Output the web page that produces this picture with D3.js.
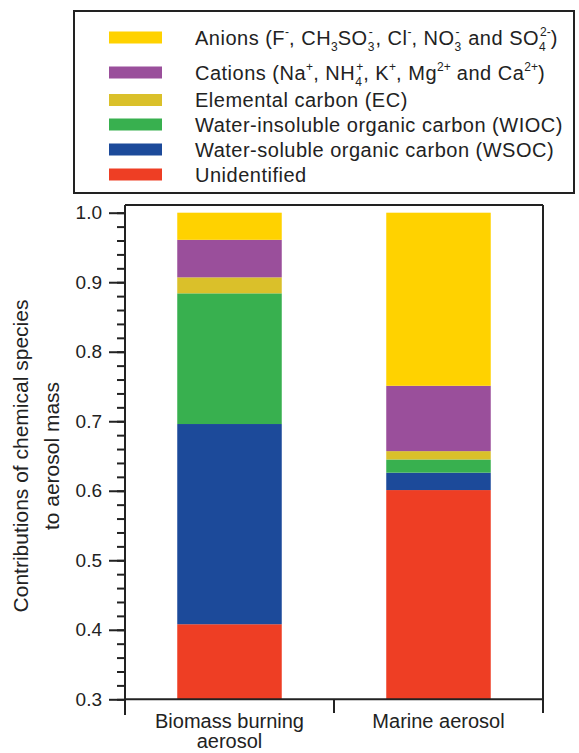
<!DOCTYPE html>
<html>
<head>
<meta charset="utf-8">
<script src="https://cdn.jsdelivr.net/npm/d3@7"></script>
<style>
  body { margin: 0; background: #fff; }
  svg { display: block; font-family: "Liberation Sans", Arial, sans-serif; }
</style>
</head>
<body>
<svg id="chart" width="579" height="753"></svg>
<script>
// data (fraction of aerosol mass)
var categories = ["Biomass burning aerosol", "Marine aerosol"];
var categoryLines = [["Biomass burning", "aerosol"], ["Marine aerosol"]];
var species = ["unid", "wsoc", "wioc", "ec", "cations", "anions"];
var unidentified = [0.408, 0.601];
var wsoc = [0.288, 0.025];
var wioc = [0.188, 0.019];
var ec = [0.023, 0.012];
var cations = [0.054, 0.094];
var anions = [0.039, 0.249];
var colors = ["#ee3e24", "#1c4a9a", "#38b04f", "#dac02a", "#9a4f9b", "#ffd200"];
var majorTicks = [0.3, 0.4, 0.5, 0.6, 0.7, 0.8, 0.9, 1.0];

// legend entries, top to bottom; each is a list of [text, kind] pieces
// kind: n = normal, sub, sup, supk = superscript stacked over the previous subscript
var legendItems = [
  { c: 5, parts: [["Anions (F", "n"], ["-", "sup"], [", CH", "n"], ["3", "sub"], ["SO", "n"], ["3", "sub"], ["-", "supk"],
                  [", Cl", "n"], ["-", "sup"], [", NO", "n"], ["3", "sub"], ["-", "supk"], [" and SO", "n"], ["4", "sub"], ["2-", "supk"], [")", "n"]] },
  { c: 4, parts: [["Cations (Na", "n"], ["+", "sup"], [", NH", "n"], ["4", "sub"], ["+", "supk"], [", K", "n"], ["+", "sup"],
                  [", Mg", "n"], ["2+", "sup"], [" and Ca", "n"], ["2+", "sup"], [")", "n"]] },
  { c: 3, parts: [["Elemental carbon (EC)", "n"]] },
  { c: 2, parts: [["Water-insoluble organic carbon (WIOC)", "n"]] },
  { c: 1, parts: [["Water-soluble organic carbon (WSOC)", "n"]] },
  { c: 0, parts: [["Unidentified", "n"]] }
];
var legendRowY = [37.5, 72.5, 100, 124.5, 149.5, 174.5];

var rows = categories.map(function(cat, i) {
  return { cat: cat, unid: unidentified[i], wsoc: wsoc[i], wioc: wioc[i], ec: ec[i], cations: cations[i], anions: anions[i] };
});

var svg = d3.select("#chart");
var plotLeft = 125, plotRight = 543, plotTop = 205;
var ink = "#222";

var y = d3.scaleLinear().domain([0.3, 1.0]).range([699.3, 212.7]).clamp(true);
var x = d3.scaleBand().domain(categories).range([plotLeft, plotRight]).paddingInner(0.5).paddingOuter(0.25);

var stacked = d3.stack().keys(species)(rows);

// bars
svg.append("g").selectAll("g")
  .data(stacked)
  .enter().append("g")
  .attr("fill", function(d, i) { return colors[i]; })
  .selectAll("rect")
  .data(function(d) { return d; })
  .enter().append("rect")
  .attr("x", function(d) { return x(d.data.cat); })
  .attr("width", x.bandwidth())
  .attr("y", function(d) { return y(d[1]); })
  .attr("height", function(d) { return y(d[0]) - y(d[1]); });

// y axis: minor then major ticks
var minor = d3.range(0.3, 1.001, 0.02);
svg.append("g")
  .attr("transform", "translate(" + plotLeft + ",0)")
  .call(d3.axisLeft(y).tickValues(minor).tickSize(8).tickFormat(""))
  .call(function(g) { g.select(".domain").remove(); g.selectAll("line").attr("stroke", ink).attr("stroke-width", 2); });

svg.append("g")
  .attr("transform", "translate(" + plotLeft + ",0)")
  .call(d3.axisLeft(y).tickValues(majorTicks).tickSize(16).tickPadding(7).tickFormat(d3.format(".1f")))
  .call(function(g) {
    g.select(".domain").remove();
    g.selectAll("line").attr("stroke", ink).attr("stroke-width", 2);
    g.selectAll("text").attr("font-size", 19).attr("fill", ink).attr("font-family", null);
  });

// frame
var frame = svg.append("g").attr("stroke", ink).attr("stroke-width", 2).attr("fill", "none");
frame.append("line").attr("x1", plotLeft).attr("x2", plotLeft).attr("y1", plotTop).attr("y2", 715);
frame.append("line").attr("x1", plotLeft).attr("x2", plotRight).attr("y1", plotTop).attr("y2", plotTop);
frame.append("line").attr("x1", plotRight).attr("x2", plotRight).attr("y1", plotTop).attr("y2", 713);
frame.append("line").attr("x1", plotLeft).attr("x2", plotRight).attr("y1", y(0.3)).attr("y2", y(0.3));
frame.append("line").attr("x1", (plotLeft + plotRight) / 2).attr("x2", (plotLeft + plotRight) / 2).attr("y1", y(0.3)).attr("y2", 713);

// x labels
svg.append("g").selectAll("text")
  .data(categories)
  .enter().append("text")
  .attr("text-anchor", "middle")
  .attr("font-size", 20)
  .attr("fill", ink)
  .each(function(d, i) {
    var t = d3.select(this);
    categoryLines[i].forEach(function(line, j) {
      t.append("tspan").attr("x", x(d) + x.bandwidth() / 2).attr("y", 728 + j * 20).text(line);
    });
  });

// y title
svg.append("text")
  .attr("transform", "translate(0,456) rotate(-90)")
  .attr("text-anchor", "middle")
  .attr("font-size", 21)
  .attr("fill", ink)
  .selectAll("tspan")
  .data(["Contributions of chemical species", "to aerosol mass"])
  .enter().append("tspan")
  .attr("x", 0)
  .attr("y", function(d, i) { return 28 + i * 31; })
  .text(function(d) { return d; });

// legend
svg.append("rect")
  .attr("x", 74).attr("y", 11).attr("width", 500).attr("height", 182)
  .attr("fill", "none").attr("stroke", ink).attr("stroke-width", 2);

var leg = svg.append("g").selectAll("g")
  .data(legendItems)
  .enter().append("g")
  .attr("transform", function(d, i) { return "translate(0," + legendRowY[i] + ")"; });

leg.append("rect")
  .attr("x", 109).attr("y", -6).attr("width", 53).attr("height", 12)
  .attr("fill", function(d) { return colors[d.c]; });

var base = 7;
leg.append("text")
  .attr("x", 195).attr("y", base)
  .attr("font-size", 20)
  .attr("letter-spacing", 0.5)
  .attr("fill", ink)
  .each(function(d) {
    var t = d3.select(this);
    var prevW = 0, carry = 0;
    d.parts.forEach(function(p) {
      var s = t.append("tspan").text(p[0]);
      if (p[1] === "n") {
        s.attr("y", base);
        if (carry > 0) s.attr("dx", carry);
        carry = 0;
      } else {
        s.attr("font-size", 12).attr("letter-spacing", 0);
        if (p[1] === "sub") s.attr("y", base + 6);
        if (p[1] === "sup") s.attr("y", base - 9);
        if (p[1] === "supk") s.attr("y", base - 9).attr("dx", -prevW + 1);
      }
      var w = s.node().getComputedTextLength();
      // stacked superscript: make the next piece start after the wider of the two
      if (p[1] === "supk") carry = prevW - 1 - w + 1;
      prevW = w;
    });
  });
</script>
</body>
</html>
